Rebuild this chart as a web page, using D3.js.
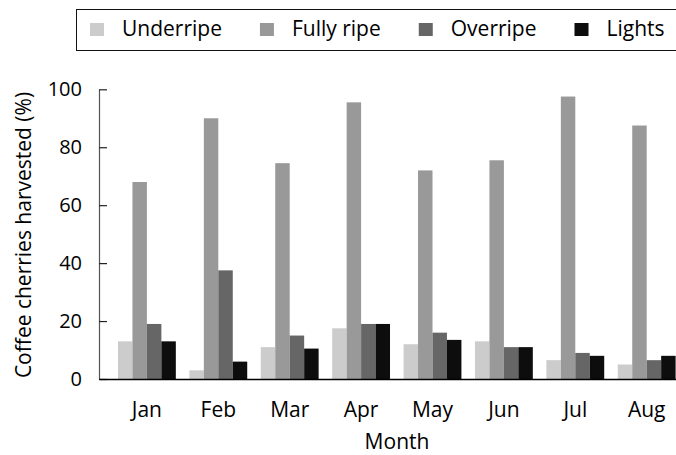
<!DOCTYPE html>
<meta charset="utf-8">
<script src="https://cdn.jsdelivr.net/npm/d3@7"></script>
<style>
  body { margin: 0; background: #fff; }
  text { font-family: "Open Sans", sans-serif; fill: #000; }
  .axis text { font-size: 20px; }
  .xaxis text { font-size: 21px; }
  .axis-title { font-size: 21px; }
  .legend text { font-size: 21px; }
</style>
<body>
<script>

var months = ["Jan", "Feb", "Mar", "Apr", "May", "Jun", "Jul", "Aug"];
var series = ["Underripe", "Fully ripe", "Overripe", "Lights"];
var underripe = [13, 3, 11, 17.5, 12, 13, 6.5, 5];
var fullyRipe = [68, 90, 74.5, 95.5, 72, 75.5, 97.5, 87.5];
var overripe = [19, 37.5, 15, 19, 16, 11, 9, 6.5];
var lights = [13, 6, 10.5, 19, 13.5, 11, 8, 8];
var yTicks = [0, 20, 40, 60, 80, 100];

var colors = ["#cccccc", "#999999", "#666666", "#0d0d0d"];
var values = [underripe, fullyRipe, overripe, lights];

var width = 676,
    height = 455;

var svg = d3.select("body").append("svg")
    .attr("width", width)
    .attr("height", height);

// x range runs past the right edge, the last group is cut off like the original
var x0 = d3.scaleBand()
    .domain(months)
    .range([99, 694.6])
    .paddingInner(0.19)
    .paddingOuter(0.266);

var x1 = d3.scaleBand()
    .domain(series)
    .range([0, x0.bandwidth()]);

var y = d3.scaleLinear()
    .domain([0, 100])
    .range([379, 89.3]);

var color = d3.scaleOrdinal().domain(series).range(colors);

// bars
var groups = svg.append("g")
    .selectAll("g")
    .data(months)
    .enter().append("g")
    .attr("transform", function(d) { return "translate(" + x0(d) + ",0)"; });

groups.selectAll("rect")
    .data(function(m, i) {
      return series.map(function(s, j) { return {key: s, value: values[j][i]}; });
    })
    .enter().append("rect")
    .attr("x", function(d) { return x1(d.key); })
    .attr("y", function(d) { return y(d.value); })
    .attr("width", x1.bandwidth())
    .attr("height", function(d) { return y(0) - y(d.value); })
    .attr("fill", function(d) { return color(d.key); });

// y axis, ticks point inward
var yAxis = svg.append("g")
    .attr("class", "axis")
    .attr("transform", "translate(99,0)")
    .call(d3.axisLeft(y).tickValues(yTicks).tickSize(-8).tickSizeOuter(0).tickPadding(17));
yAxis.select(".domain").attr("stroke", "#555").attr("stroke-width", 1.2);
yAxis.selectAll(".tick line").attr("stroke", "#222").attr("stroke-width", 1.2);

// x axis
var xAxis = svg.append("g")
    .attr("class", "axis xaxis")
    .attr("transform", "translate(0,379)")
    .call(d3.axisBottom(x0).tickSize(0).tickSizeOuter(0).tickPadding(23));
xAxis.select(".domain").attr("stroke", "#000").attr("stroke-width", 1.5);

// let the css fonts win over the axis defaults
xAxis.attr("font-family", null).attr("font-size", null);
yAxis.attr("font-family", null).attr("font-size", null);

// axis titles
svg.append("text")
    .attr("class", "axis-title")
    .attr("x", 397)
    .attr("y", 449)
    .attr("text-anchor", "middle")
    .text("Month");

svg.append("text")
    .attr("class", "axis-title")
    .attr("text-anchor", "middle")
    .attr("transform", "translate(31,235) rotate(-90)")
    .text("Coffee cherries harvested (%)");

// legend
var legend = svg.append("g").attr("class", "legend");

legend.append("rect")
    .attr("x", 76.5)
    .attr("y", 9.5)
    .attr("width", 640)
    .attr("height", 41)
    .attr("fill", "none")
    .attr("stroke", "#111")
    .attr("stroke-width", 1);

var lx = 90;
series.forEach(function(s) {
  legend.append("rect")
      .attr("x", lx)
      .attr("y", 23)
      .attr("width", 14)
      .attr("height", 13)
      .attr("fill", color(s));
  var t = legend.append("text")
      .attr("x", lx + 32)
      .attr("y", 36)
      .text(s);
  lx += 32 + t.node().getComputedTextLength() + 38;
});

</script>
</body>
